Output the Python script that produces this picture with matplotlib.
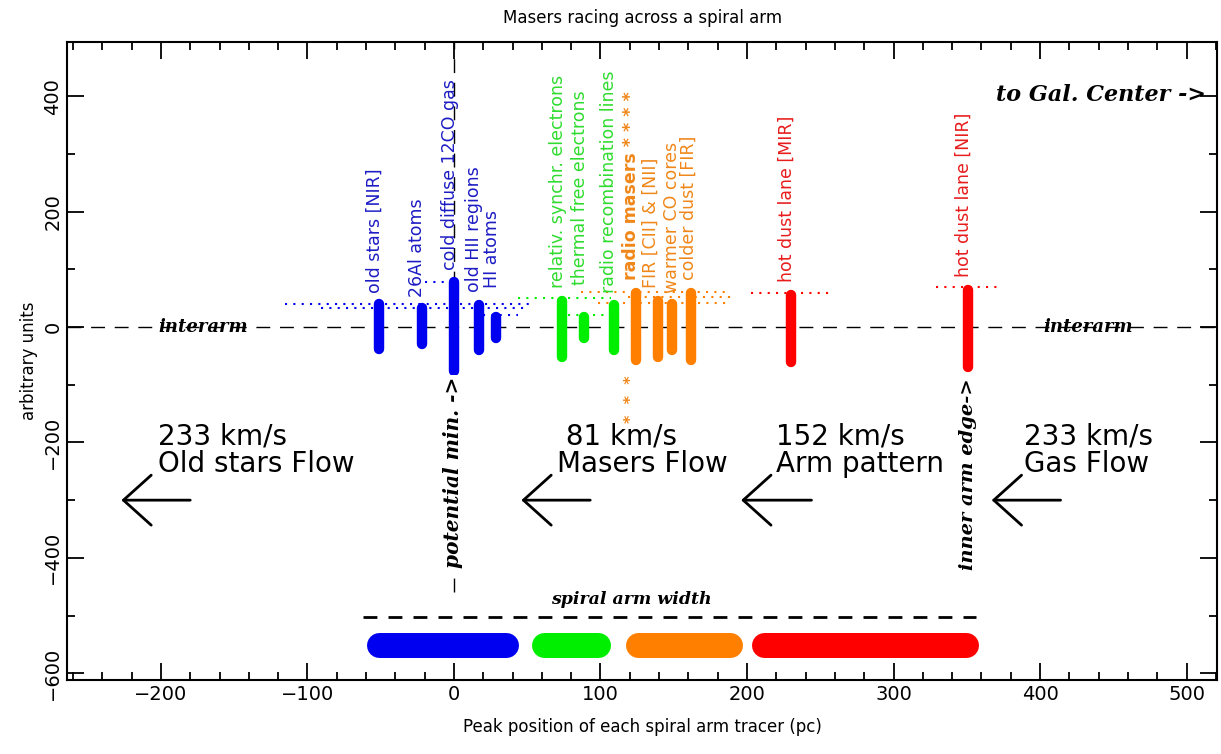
import matplotlib
matplotlib.use("Agg")
from matplotlib import pyplot as plt

# tracers: peak position (pc), bar top / bottom (arbitrary units)
tracer_labels = ["old stars [NIR]", "26Al atoms", "cold diffuse 12CO gas", "old HII regions", "HI atoms",
                 "relativ. synchr. electrons", "thermal free electrons", "radio recombination lines",
                 "radio masers * * * *", "FIR [CII] & [NII]", "warmer CO cores", "colder dust [FIR]",
                 "hot dust lane [MIR]", "hot dust lane [NIR]"]
tracer_x = [-51, -22, 0, 17, 29, 74, 89, 109, 124, 139, 149, 162, 230, 351]
tracer_top = [50, 42, 87, 47, 26, 55, 26, 47, 68, 55, 50, 68, 64, 73]
tracer_bottom = [-47, -38, -85, -48, -28, -60, -28, -48, -66, -60, -48, -66, -69, -78]
tracer_group = ["blue"] * 5 + ["green"] * 3 + ["orange"] * 4 + ["red"] * 2
label_y = [59, 52, 99, 61, 68, 68, 73, 59, 81, 68, 59, 81, 78, 87]
label_dx = [-3, -3, -3, -3, -3, -3, -3, -3, -3, -5, 0, -2, -3, -3]

# dotted uncertainty ranges: (level, x from, x to, group)
dot_y = [40, 33, 78, 21, 50, 21, 61, 52, 41, 59, 70]
dot_x0 = [-115, -91, -20, 20, 44, 78, 87, 119, 98, 203, 329]
dot_x1 = [55, 48, 3, 44, 107, 107, 189, 189, 189, 257, 372]
dot_group = ["blue"] * 4 + ["green"] * 2 + ["orange"] * 3 + ["red"] * 2

# spiral arm zones
zone_start = [-60, 53, 117, 203]
zone_end = [44, 107, 197, 358]
zone_group = ["blue", "green", "orange", "red"]

# flows
flow_text = ["233 km/s\nOld stars Flow", " 81 km/s\nMasers Flow", "152 km/s\nArm pattern", "233 km/s\nGas Flow"]
flow_text_x = [-202, 70, 220, 389]
flow_tail = [-180, 93, 244, 414]
flow_head = [-227, 46, 196, 367]

COLORS = {"blue": "#0000f0", "green": "#00ee00", "orange": "#ff8000", "red": "#ff0000"}
TEXT_COLORS = {"blue": "#1c1cc4", "green": "#2fdc2f", "orange": "#f0871a", "red": "#e81c1c"}
SCRIPT = dict(family="DejaVu Serif", style="italic", weight="bold", color="black")

fig = plt.figure(figsize=(12.21, 7.54), dpi=100)
ax = fig.add_axes([0.055, 0.098, 0.942, 0.846])
ax.set_xlim(-264, 521)
ax.set_ylim(-612, 494)

px_x = ax.transData.transform((1, 0))[0] - ax.transData.transform((0, 0))[0]
px_y = ax.transData.transform((0, 1))[1] - ax.transData.transform((0, 0))[1]

# reference lines
ax.axhline(0, color="black", lw=1, ls=(0, (10, 7)), zorder=1)
ax.plot([0, 0], [-460, 494], color="black", lw=1, ls=(0, (10, 7)), zorder=1)

for y, x0, x1, g in zip(dot_y, dot_x0, dot_x1, dot_group):
    ax.plot([x0, x1], [y, y], color=COLORS[g], lw=1.5, ls=(0, (1, 3)), zorder=2)

bar_lw = 7.5
cap = bar_lw / 72 * 100 / 2 / px_y
for x, t, b, g, lab, ly, dx in zip(tracer_x, tracer_top, tracer_bottom, tracer_group, tracer_labels,
                                   label_y, label_dx):
    ax.plot([x, x], [b + cap, t - cap], color=COLORS[g], lw=bar_lw, solid_capstyle="round", zorder=3)
    ax.text(x + dx, ly, lab, rotation=90, ha="center", va="bottom", fontsize=12.5,
            color=TEXT_COLORS[g], weight="bold" if lab.startswith("radio masers") else "normal", zorder=4)
ax.text(121, -84, "*  *  *", rotation=90, ha="center", va="top", fontsize=11.5, color=TEXT_COLORS["orange"],
        weight="bold")

# annotations
ax.text(-171, 0, "interarm", ha="center", va="center", fontsize=13, **SCRIPT)
ax.text(433, 0, "interarm", ha="center", va="center", fontsize=13, **SCRIPT)
ax.text(513, 403, "to Gal. Center ->", ha="right", va="center", fontsize=16, **SCRIPT)
ax.text(-1, -86, "potential min. ->", rotation=90, ha="center", va="top", fontsize=14.5,
        bbox=dict(facecolor="white", edgecolor="none", pad=1), zorder=5, **SCRIPT)
ax.text(351, -88, "inner arm edge->", rotation=90, ha="center", va="top", fontsize=14, zorder=5, **SCRIPT)

for txt, tx, x1, x0 in zip(flow_text, flow_text_x, flow_tail, flow_head):
    ax.text(tx, -165, txt, ha="left", va="top", fontsize=20, linespacing=1.0)
    ax.annotate("", xy=(x0, -300), xytext=(x1, -300),
                arrowprops=dict(arrowstyle="->, head_length=0.5, head_width=0.45", lw=2, color="black",
                                shrinkA=0, shrinkB=0, mutation_scale=40))

# spiral arm width
ax.text(121, -473, "spiral arm width", ha="center", va="center", fontsize=12.5, **SCRIPT)
ax.plot([-62, 356], [-503, -503], color="black", lw=2, ls=(0, (5, 4)))
zone_lw = 18
zcap = zone_lw / 72 * 100 / 2 / px_x
for s, e, g in zip(zone_start, zone_end, zone_group):
    ax.plot([s + zcap, e - zcap], [-551, -551], color=COLORS[g], lw=zone_lw, solid_capstyle="round")

ax.set_xticks(range(-200, 501, 100))
ax.set_xticks(range(-260, 521, 20), minor=True)
ax.set_yticks(range(-600, 401, 200))
ax.set_yticks(range(-600, 491, 100), minor=True)
ax.tick_params(which="both", direction="in", top=True, right=True, width=1.3, labelsize=14)
ax.tick_params(which="major", length=12)
ax.tick_params(which="minor", length=6)
ax.tick_params(axis="y", labelrotation=90)
for lbl in ax.get_yticklabels():
    lbl.set_va("center")
for sp in ax.spines.values():
    sp.set_linewidth(1.5)

ax.set_title("Masers racing across a spiral arm", fontsize=12, pad=14)
ax.set_xlabel("Peak position of each spiral arm tracer (pc)", fontsize=12, labelpad=10)
ax.set_ylabel("arbitrary units", fontsize=12, labelpad=4)

fig.savefig("out.png", dpi=100)
